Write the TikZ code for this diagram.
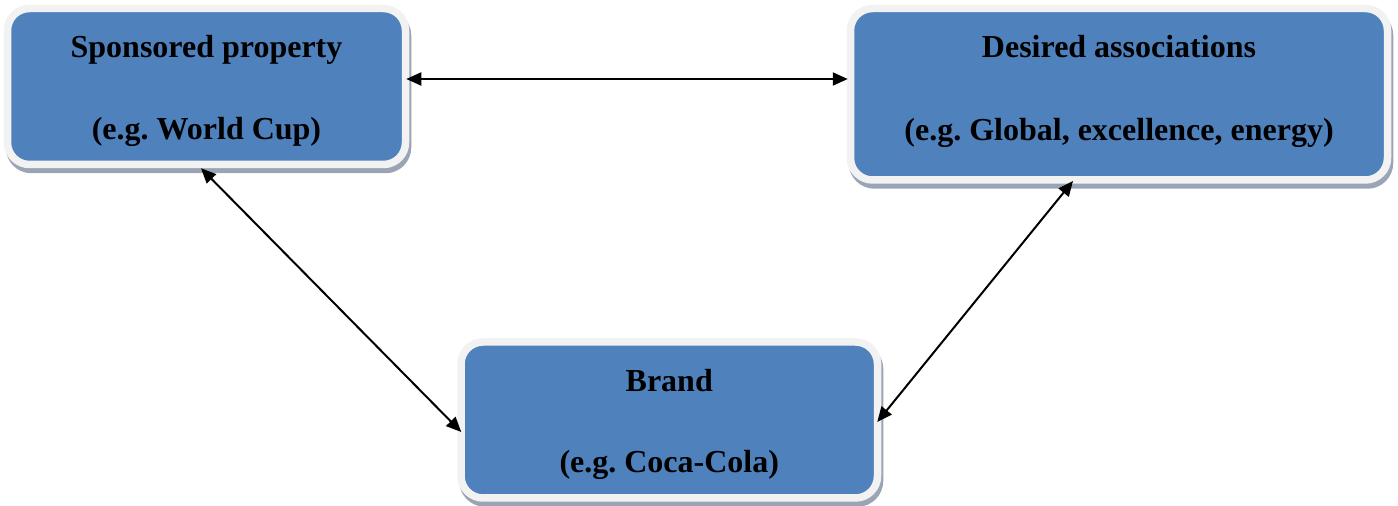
\documentclass[tikz,border=0pt]{standalone}
\usepackage{fontspec}
\setmainfont{Liberation Serif}
\usetikzlibrary{calc,arrows.meta}
\definecolor{boxblue}{HTML}{4F81BD}
\definecolor{boxrim}{HTML}{F2F2F2}
\definecolor{boxshade}{HTML}{9AA4B4}
\tikzset{
  box/.style={rectangle, rounded corners=11pt, fill=boxblue, draw=boxrim, line width=3.75pt,
    preaction={draw=boxshade, fill=boxshade, line width=3.75pt, transform canvas={xshift=1pt,yshift=-2.5pt}}},
  lbl/.style={anchor=base, inner sep=0pt, font=\fontsize{16}{19}\selectfont\bfseries\frenchspacing, text=black},
  link/.style={line width=1pt, {Triangle[length=7.5pt,width=6.5pt]}-{Triangle[length=7.5pt,width=6.5pt]}}
}
\begin{document}
\begin{tikzpicture}[x=0.5pt,y=-0.5pt]
\useasboundingbox (0,0) rectangle (1398,506);
\node[box, minimum width=199pt, minimum height=78pt] (sp) at (206.5,86.5) {};
\node[box, minimum width=268.5pt, minimum height=85.75pt] (da) at (1119,94.25) {};
\node[box, minimum width=208.25pt, minimum height=78pt] (br) at (669.25,420) {};
\node[lbl] (sp1) at ($(sp.center)+(0,-28.5)$) {Sponsored property};
\node[lbl] (sp2) at ($(sp.center)+(0,53.5)$) {(e.g. World Cup)};
\node[lbl] (da1) at ($(da.center)+(0,-36.25)$) {Desired associations};
\node[lbl] (da2) at ($(da.center)+(0,46)$) {(e.g. Global, excellence, energy)};
\node[lbl] (br1) at ($(br.center)+(0,-28)$) {Brand};
\node[lbl] (br2) at ($(br.center)+(0,53)$) {(e.g. Coca-Cola)};
\draw[link] ($(sp.east)+(-3,-7.5)$) -- ($(da.west)+(1,-15.25)$);
\draw[link] ($(sp.south)+(-5.5,0)$) -- ($(br.west)+(4,12)$);
\draw[link] ($(da.south)+(-46,-2.75)$) -- ($(br.east)+(-4,2)$);
\end{tikzpicture}
\end{document}
